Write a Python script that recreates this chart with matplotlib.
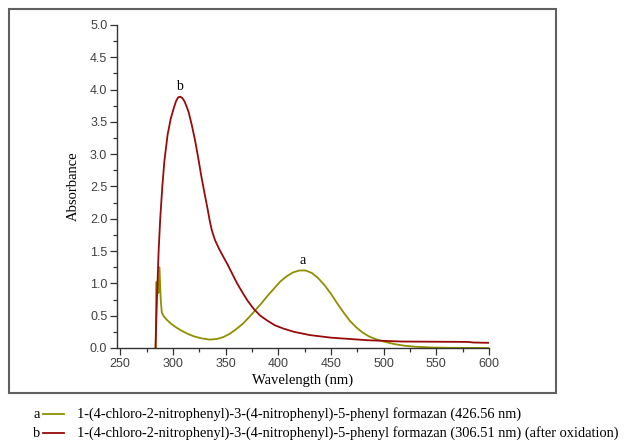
import numpy as np
import matplotlib
matplotlib.use("Agg")
import matplotlib.pyplot as plt
from matplotlib.patches import Rectangle
from matplotlib.lines import Line2D
from matplotlib.ticker import MultipleLocator, FormatStrFormatter

# -----------------------------
# datos
# -----------------------------
wl_a = [283.8, 284.2, 285.5, 286.3, 287.3, 288.5, 289.5, 291, 294, 298, 303, 308,
        314, 320, 327, 335, 342, 348, 354, 360, 366, 372, 378, 384, 390, 396, 402,
        408, 414, 420, 426, 432, 438, 444, 450, 456, 462, 468, 474, 480, 486, 492,
        498, 505, 512, 520, 530, 545, 560, 600]
abs_a = [0.0, 1.02, 1.02, 0.85, 1.25, 0.75, 0.55, 0.50, 0.44, 0.38, 0.32, 0.27,
         0.22, 0.18, 0.15, 0.13, 0.14, 0.17, 0.22, 0.29, 0.37, 0.47, 0.58, 0.69,
         0.81, 0.92, 1.03, 1.11, 1.17, 1.20, 1.20, 1.16, 1.08, 0.97, 0.84, 0.69,
         0.55, 0.42, 0.32, 0.24, 0.18, 0.14, 0.11, 0.08, 0.055, 0.035, 0.02, 0.008,
         0.003, 0.0]

wl_b = [283.5, 285, 286.5, 288, 290, 292, 295, 298, 301, 303, 305, 307, 309, 311,
        313, 315, 318, 321, 324, 327, 330, 333, 335, 337, 340, 344, 348, 352, 356,
        361, 366, 371, 377, 383, 390, 397, 405, 415, 430, 450, 485, 517, 580, 585,
        600]
abs_b = [0.0, 0.8, 1.5, 2.0, 2.5, 2.9, 3.3, 3.55, 3.72, 3.82, 3.88, 3.89, 3.87,
         3.82, 3.74, 3.65, 3.45, 3.22, 2.95, 2.66, 2.4, 2.15, 1.97, 1.82, 1.67,
         1.53, 1.41, 1.29, 1.16, 1.0, 0.86, 0.73, 0.6, 0.5, 0.42, 0.35, 0.3, 0.25,
         0.2, 0.16, 0.12, 0.10, 0.094, 0.085, 0.08]

etiquetas = ["a", "b"]
leyendas = [
    "1-(4-chloro-2-nitrophenyl)-3-(4-nitrophenyl)-5-phenyl formazan (426.56 nm)",
    "1-(4-chloro-2-nitrophenyl)-3-(4-nitrophenyl)-5-phenyl formazan (306.51 nm) (after oxidation)",
]
picos = [(423, 1.36), (306.5, 4.05)]
colores = ["#8f8f00", "#990a0a"]

serif = ["Liberation Serif", "DejaVu Serif"]
sans = ["Liberation Sans", "DejaVu Sans"]

# -----------------------------
# grafico
# -----------------------------
fig = plt.figure(figsize=(6.27, 4.40), dpi=100)
ax = fig.add_axes([0.1866, 0.2091, 0.5933, 0.7341])

ax.plot(wl_a, abs_a, color=colores[0], lw=1.3)
ax.plot(wl_b, abs_b, color=colores[1], lw=1.3)

ax.set_xlim(247, 600)
ax.set_ylim(0, 5)
ax.xaxis.set_major_locator(MultipleLocator(50))
ax.xaxis.set_minor_locator(MultipleLocator(25))
ax.yaxis.set_major_locator(MultipleLocator(0.5))
ax.yaxis.set_minor_locator(MultipleLocator(0.25))
ax.yaxis.set_major_formatter(FormatStrFormatter("%.1f"))

for s in ["top", "right"]:
    ax.spines[s].set_visible(False)
for s in ["left", "bottom"]:
    ax.spines[s].set_color("#333333")
    ax.spines[s].set_linewidth(1.0)

ax.tick_params(which="major", direction="out", length=5, width=0.9, color="#333333",
               labelsize=9, labelcolor="#404040", pad=2)
ax.tick_params(which="minor", direction="out", length=3, width=0.9, color="#333333")
for lab in ax.get_xticklabels() + ax.get_yticklabels():
    lab.set_family(sans)

ax.set_xlabel("Wavelength (nm)", family=serif, fontsize=10.5, labelpad=3)
ax.set_ylabel("Absorbance", family=serif, fontsize=10.5, labelpad=7)

for (x, y), t in zip(picos, etiquetas):
    ax.text(x, y, t, family=serif, fontsize=10, ha="center", va="center")

# marco gris
fig.patches.append(Rectangle((0.01435, 0.1068), 0.8725, 0.8727, transform=fig.transFigure,
                             fill=False, edgecolor="#606060", lw=1.5))

# leyenda manual
y_leg = [1 - 414 / 440, 1 - 433 / 440]
for t, c, txt, yy in zip(etiquetas, colores, leyendas, y_leg):
    fig.text(33 / 627, yy, t, family=serif, fontsize=10.4, va="center", ha="left")
    fig.add_artist(Line2D([43 / 627, 64 / 627], [yy, yy], color=c, lw=1.3,
                          transform=fig.transFigure))
    fig.text(77 / 627, yy, txt, family=serif, fontsize=10.4, va="center", ha="left")

plt.savefig("out.png", dpi=100)
